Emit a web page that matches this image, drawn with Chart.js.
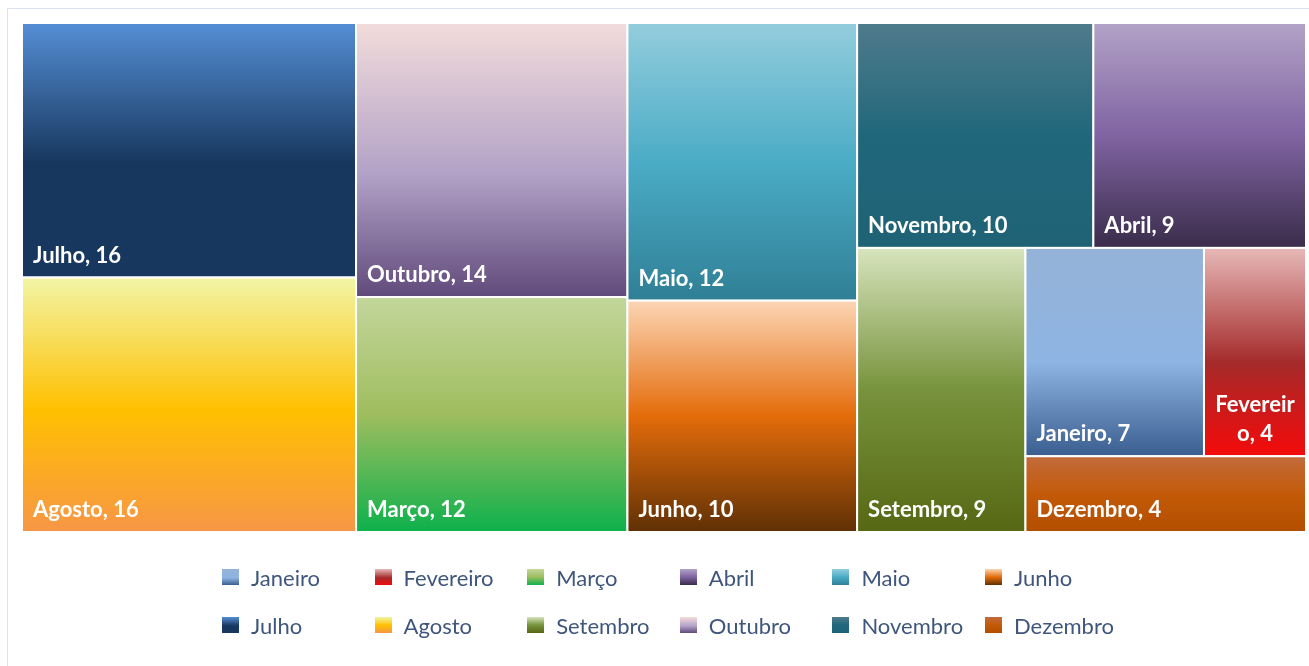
<!DOCTYPE html>
<html>
<head>
<meta charset="utf-8">
<script src="https://cdn.jsdelivr.net/npm/chart.js@4.4.1/dist/chart.umd.min.js"></script>
<style>
  html, body { margin: 0; padding: 0; background: #fff; overflow: hidden; }
  #wrap { position: relative; width: 1309px; height: 666px; }
  #moldura { position: absolute; left: 7px; top: 8px; width: 1330px; height: 700px; border: 1px solid #d9e2f1; box-sizing: border-box; }
  #grafico { position: absolute; left: 0; top: 0; }
  #legenda { position: absolute; left: 222px; top: 553px; display: grid; grid-template-columns: repeat(6, 152.6px); grid-auto-rows: 48px; }
  .item { display: flex; align-items: center; font: 22px Lato, sans-serif; color: #3f567c; white-space: nowrap; }
  .cor { width: 17px; height: 16px; margin-right: 12px; flex: none; }
</style>
</head>
<body>
<div id="wrap">
  <div id="moldura"></div>
  <canvas id="grafico" width="1309" height="666"></canvas>
  <div id="legenda"></div>
</div>
<script>
// dados do gráfico
const meses = ['Janeiro', 'Fevereiro', 'Março', 'Abril', 'Maio', 'Junho',
               'Julho', 'Agosto', 'Setembro', 'Outubro', 'Novembro', 'Dezembro'];
const valores = [7, 4, 12, 9, 12, 10, 16, 16, 9, 14, 10, 4];

// degradês de cada mês (de cima para baixo)
const gradientes = [
  [[0, '#95b3d7'], [0.55, '#8eb4e3'], [1, '#3a5e8f']],
  [[0, '#e6b9b8'], [0.55, '#a52a2a'], [1, '#f50a0a']],
  [[0, '#c3d69b'], [0.5, '#9fbd5e'], [1, '#0db14c']],
  [[0, '#b3a2c7'], [0.5, '#8064a2'], [1, '#3a2c4a']],
  [[0, '#93cddd'], [0.5, '#4bacc6'], [1, '#2f7f95']],
  [[0, '#fcd5b5'], [0.5, '#e46c0a'], [1, '#5f3005']],
  [[0, '#558ed5'], [0.55, '#17375e'], [1, '#17375e']],
  [[0, '#f2f5a6'], [0.52, '#ffc000'], [1, '#f79646']],
  [[0, '#d7e4bd'], [0.5, '#77933c'], [1, '#576713']],
  [[0, '#f2dcdb'], [0.55, '#b3a2c7'], [1, '#604a7b']],
  [[0, '#4f7b8c'], [0.5, '#21677b'], [1, '#1f6276']],
  [[0, '#c36b3d'], [0.5, '#c25a08'], [1, '#b34e00']]
];

// algoritmo squarified: retorna retângulos em pixels relativos (0..w, 0..h)
function pior(linha, lado) {
  const s = linha.reduce((a, b) => a + b.area, 0);
  const max = Math.max(...linha.map(b => b.area));
  const min = Math.min(...linha.map(b => b.area));
  return Math.max(lado * lado * max / (s * s), (s * s) / (lado * lado * min));
}

function posicionaLinha(linha, r, saida) {
  const s = linha.reduce((a, b) => a + b.area, 0);
  if (r.w >= r.h) {
    const larg = s / r.h;
    let y = r.y;
    linha.forEach(b => { const alt = b.area / larg; saida.push({ indice: b.indice, x: r.x, y: y, w: larg, h: alt }); y += alt; });
    return { x: r.x + larg, y: r.y, w: r.w - larg, h: r.h };
  }
  const alt = s / r.w;
  let x = r.x;
  linha.forEach(b => { const larg = b.area / alt; saida.push({ indice: b.indice, x: x, y: r.y, w: larg, h: alt }); x += larg; });
  return { x: r.x, y: r.y + alt, w: r.w, h: r.h - alt };
}

function squarify(itens, w, h) {
  const total = itens.reduce((a, b) => a + b.valor, 0);
  const blocos = itens.map(b => ({ indice: b.indice, area: b.valor * w * h / total }));
  const saida = [];
  let r = { x: 0, y: 0, w: w, h: h };
  let linha = [];
  let i = 0;
  while (i < blocos.length) {
    const lado = Math.min(r.w, r.h);
    const teste = linha.concat([blocos[i]]);
    if (linha.length === 0 || pior(teste, lado) <= pior(linha, lado)) {
      linha = teste;
      i++;
    } else {
      r = posicionaLinha(linha, r, saida);
      linha = [];
    }
  }
  if (linha.length) posicionaLinha(linha, r, saida);
  return saida;
}

// quebra o texto por caracteres quando não cabe
function quebraTexto(ctx, texto, maxLarg) {
  if (ctx.measureText(texto).width <= maxLarg) return [texto];
  const linhas = [];
  let atual = '';
  for (const c of texto) {
    if (atual && ctx.measureText(atual + c).width > maxLarg) { linhas.push(atual); atual = c; }
    else atual += c;
  }
  if (atual) linhas.push(atual);
  return linhas;
}

class TreemapController extends Chart.DatasetController {
  getMinMax() { return { min: 0, max: 1 }; }
  updateElements() {}
  update() {
    const meta = this._cachedMeta;
    const xs = meta.xScale, ys = meta.yScale;
    const w = Math.abs(xs.getPixelForValue(1) - xs.getPixelForValue(0));
    const h = Math.abs(ys.getPixelForValue(1) - ys.getPixelForValue(0));
    const dados = this.getDataset().data;
    // maiores primeiro (ordem estável para empates)
    const ordem = dados.map((v, i) => i).sort((a, b) => dados[b] - dados[a]);
    const blocos = squarify(ordem.map(i => ({ indice: i, valor: dados[i] })), w, h);
    meta.blocos = blocos.map(b => ({
      indice: b.indice,
      x0: b.x / w, x1: (b.x + b.w) / w,
      y0: b.y / h, y1: (b.y + b.h) / h
    }));
  }
  draw() {
    const meta = this._cachedMeta;
    const ctx = this.chart.ctx;
    const ds = this.getDataset();
    const labels = this.chart.data.labels;
    const xs = meta.xScale, ys = meta.yScale;
    ctx.save();
    (meta.blocos || []).forEach(b => {
      const esq = xs.getPixelForValue(b.x0), dir = xs.getPixelForValue(b.x1);
      const topo = ys.getPixelForValue(b.y0), base = ys.getPixelForValue(b.y1);
      const g = ctx.createLinearGradient(0, topo, 0, base);
      ds.gradientes[b.indice].forEach(([p, c]) => g.addColorStop(p, c));
      ctx.fillStyle = g;
      ctx.fillRect(esq, topo, dir - esq, base - topo);
      ctx.strokeStyle = '#ffffff';
      ctx.lineWidth = 2;
      ctx.strokeRect(esq, topo, dir - esq, base - topo);

      // rótulo "Mês, valor"
      ctx.fillStyle = '#ffffff';
      ctx.font = 'bold 22px Lato, sans-serif';
      ctx.textBaseline = 'alphabetic';
      const texto = labels[b.indice] + ', ' + ds.data[b.indice];
      const linhas = quebraTexto(ctx, texto, dir - esq - 20);
      const altLinha = 29;
      let y = base - 15 - (linhas.length - 1) * altLinha;
      if (linhas.length === 1) {
        ctx.textAlign = 'left';
        ctx.fillText(linhas[0], esq + 11, y);
      } else {
        ctx.textAlign = 'center';
        linhas.forEach(l => { ctx.fillText(l, (esq + dir) / 2, y); y += altLinha; });
      }
    });
    ctx.restore();
  }
}
TreemapController.id = 'treemap';
TreemapController.defaults = { datasetElementType: false, dataElementType: 'point' };
Chart.register(TreemapController);

new Chart(document.getElementById('grafico').getContext('2d'), {
  type: 'treemap',
  data: {
    labels: meses,
    datasets: [{ label: 'Meses', data: valores, gradientes: gradientes }]
  },
  options: {
    responsive: false,
    animation: false,
    events: [],
    layout: { padding: { left: 22, top: 23, right: 3, bottom: 134 } },
    scales: {
      x: { type: 'linear', min: 0, max: 1, display: false },
      y: { type: 'linear', min: 0, max: 1, reverse: true, display: false }
    },
    plugins: { legend: { display: false }, tooltip: { enabled: false } }
  }
});

// legenda em duas linhas de seis
const legenda = document.getElementById('legenda');
meses.forEach((m, i) => {
  const item = document.createElement('div');
  item.className = 'item';
  const cor = document.createElement('span');
  cor.className = 'cor';
  cor.style.background = 'linear-gradient(to bottom, ' +
    gradientes[i].map(([p, c]) => c + ' ' + (p * 100) + '%').join(', ') + ')';
  item.appendChild(cor);
  item.appendChild(document.createTextNode(m));
  legenda.appendChild(item);
});
</script>
</body>
</html>
